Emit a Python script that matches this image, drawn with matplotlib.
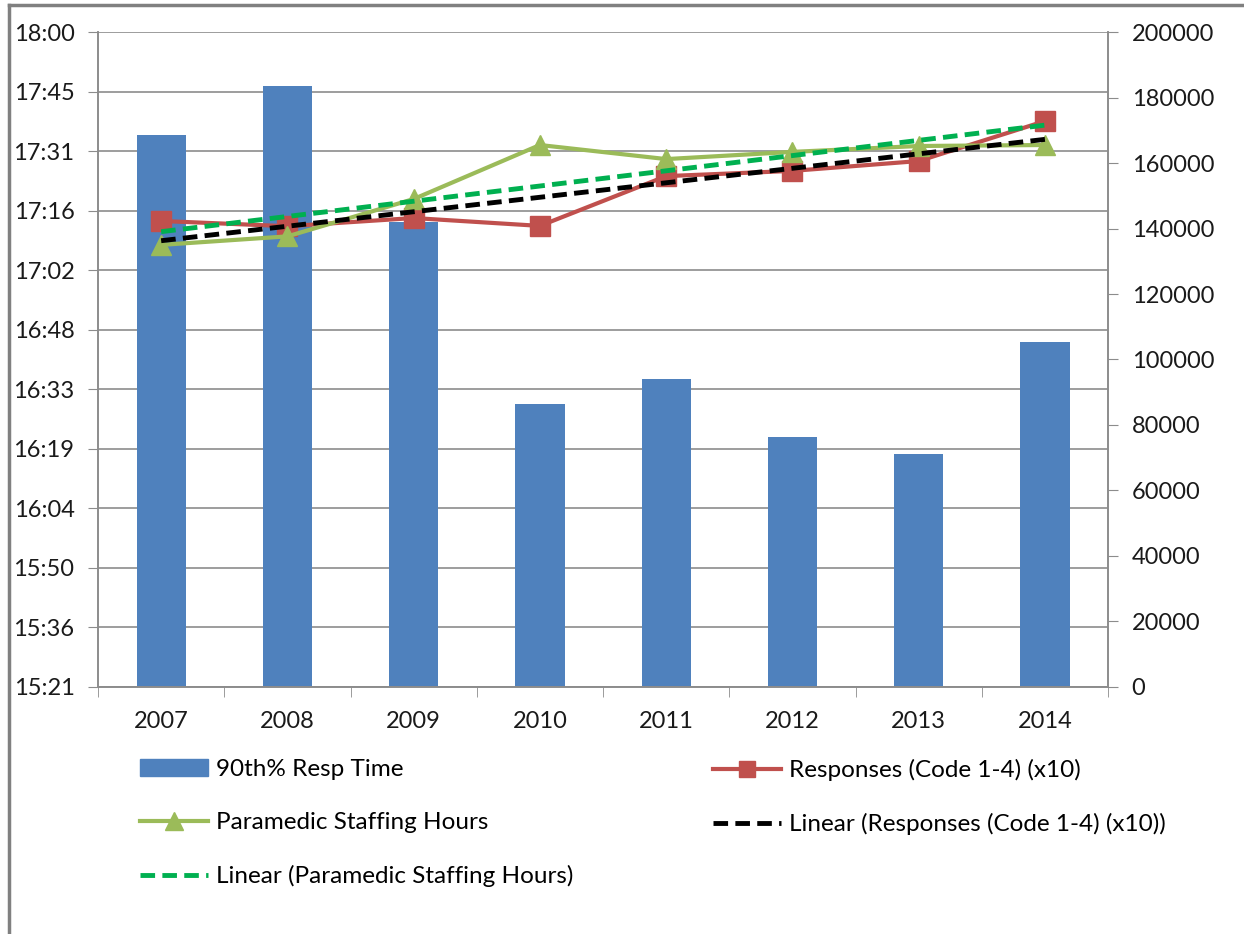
import numpy as np
import matplotlib.pyplot as plt
from matplotlib.lines import Line2D
from matplotlib.patches import Patch
from matplotlib.ticker import FixedLocator, FuncFormatter

plt.rcParams['font.family'] = ['Lato', 'DejaVu Sans']

years = ['2007', '2008', '2009', '2010', '2011', '2012', '2013', '2014']
resp_time = ['17:35', '17:47', '17:14', '16:30', '16:36', '16:22', '16:18', '16:45']
responses = [142300, 140700, 143200, 140800, 156000, 157600, 160600, 172800]
staffing = [135000, 137600, 149000, 165500, 161200, 163400, 165200, 165500]


def to_day(s):
    h, m = s.split(':')
    return (int(h) * 60 + int(m)) / 1440.0


def day_label(v, pos):
    # excel truncates the seconds
    mins = int(np.floor(v * 1440 + 1e-6))
    return '%d:%02d' % (mins // 60, mins % 60)


bar_vals = [to_day(s) for s in resp_time]
x = np.arange(len(years))

# excel-style linear trendlines
red_fit = np.polyval(np.polyfit(x, responses, 1), x)
green_fit = np.polyval(np.polyfit(x, staffing, 1), x)

fig = plt.figure(figsize=(12.44, 9.34), dpi=100)
ax = fig.add_axes([0.0788, 0.2645, 0.8119, 0.7012])
ax2 = ax.twinx()

fs = 17
grey = '#8c8c8c'
ax.bar(x, bar_vals, width=0.39, color='#4F81BD', zorder=2)
ax.set_ylim(0.64, 0.75)
ax.yaxis.set_major_locator(FixedLocator(np.arange(0.64, 0.7501, 0.01)))
ax.yaxis.set_major_formatter(FuncFormatter(day_label))
ax.grid(axis='y', color=grey, linewidth=1.2, zorder=0)
ax.set_axisbelow(True)
ax.set_xlim(-0.5, 7.5)
ax.set_xticks(x)
ax.set_xticklabels(years)
ax.set_xticks(np.arange(-0.5, 8, 1), minor=True)
ax.tick_params(axis='x', which='major', length=0, pad=17, labelsize=fs)
ax.tick_params(axis='x', which='minor', length=7, color=grey, direction='out')
ax.tick_params(axis='y', length=7, color=grey, labelsize=fs, pad=10)

ax2.plot(x, responses, color='#C0504D', linewidth=3, marker='s', markersize=14, zorder=3)
ax2.plot(x, staffing, color='#9BBB59', linewidth=3, marker='^', markersize=14, zorder=3)
ax2.plot(x, red_fit, color='black', linewidth=3.5, linestyle=(0, (3, 1.5)), zorder=4)
ax2.plot(x, green_fit, color='#00B050', linewidth=3.5, linestyle=(0, (3, 1.5)), zorder=4)
ax2.set_ylim(0, 200000)
ax2.set_yticks(np.arange(0, 200001, 20000))
ax2.tick_params(axis='y', length=7, color=grey, labelsize=fs, pad=10)

for a in (ax, ax2):
    a.spines['top'].set_visible(False)
    for s in ('left', 'right', 'bottom'):
        a.spines[s].set_color(grey)
        a.spines[s].set_linewidth(1.2)
    for t in a.get_yticklabels() + a.get_xticklabels():
        t.set_color('#1a1a1a')

h_bar = Patch(color='#4F81BD')
h_green = Line2D([], [], color='#9BBB59', linewidth=3, marker='^', markersize=13)
h_gfit = Line2D([], [], color='#00B050', linewidth=3.5, linestyle=(0, (3, 1.5)))
h_red = Line2D([], [], color='#C0504D', linewidth=3, marker='s', markersize=12)
h_rfit = Line2D([], [], color='black', linewidth=3.5, linestyle=(0, (3, 1.5)))

leg_kw = dict(frameon=False, fontsize=17.5, handlelength=2.8, handletextpad=0.33,
              labelspacing=1.31, borderaxespad=0, borderpad=0)
fig.legend([h_bar, h_green, h_gfit],
           ['90th% Resp Time', 'Paramedic Staffing Hours', 'Linear (Paramedic Staffing Hours)'],
           loc='upper left', bbox_to_anchor=(0.1125, 0.187), **leg_kw)
fig.legend([h_red, h_rfit],
           ['Responses (Code 1-4) (x10)', 'Linear (Responses (Code 1-4) (x10))'],
           loc='upper left', bbox_to_anchor=(0.573, 0.187), **leg_kw)

# outer chart border (left and top visible)
fig.add_artist(Line2D([0.0075, 0.0075], [0, 0.995], transform=fig.transFigure, color='#808080', linewidth=2.5))
fig.add_artist(Line2D([0.0075, 1.0], [0.995, 0.995], transform=fig.transFigure, color='#808080', linewidth=2.5))

fig.savefig('out.png', dpi=100)
